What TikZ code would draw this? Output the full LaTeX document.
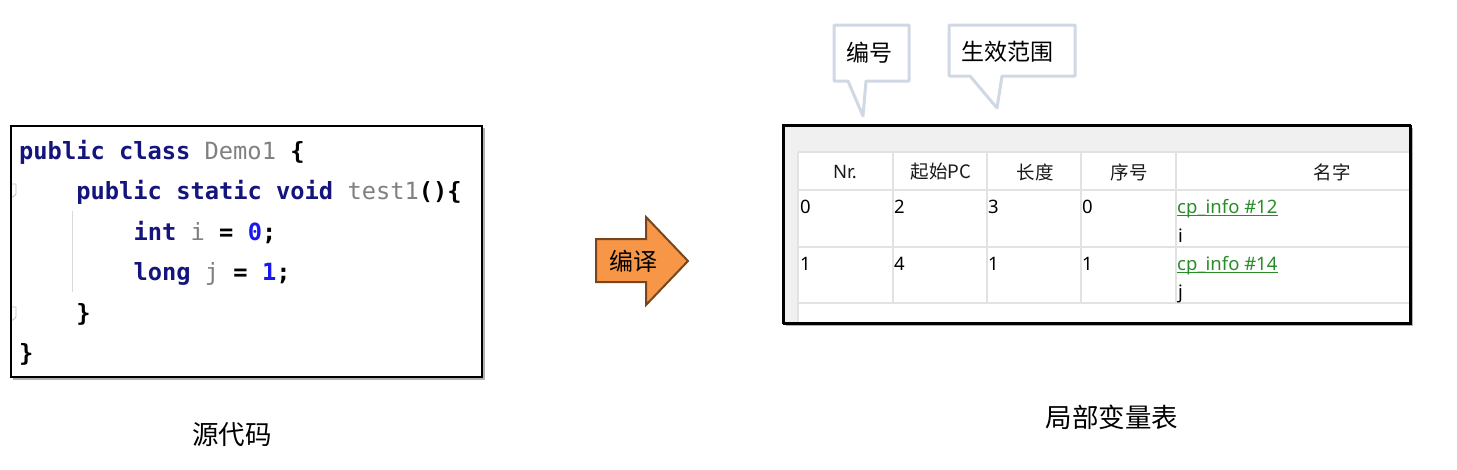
\documentclass[tikz,border=0pt]{standalone}
\usepackage{fontspec}
\setmainfont{Noto Sans}
\newfontfamily\cjk{Noto Sans CJK SC}
\newfontfamily\codefont{DejaVu Sans Mono}
\definecolor{kw}{RGB}{20,20,125}
\definecolor{idg}{RGB}{128,128,128}
\definecolor{num}{RGB}{25,25,235}
\definecolor{calloutline}{RGB}{208,216,228}
\definecolor{arrowfill}{RGB}{247,150,70}
\definecolor{arrowline}{RGB}{120,70,30}
\definecolor{gridc}{RGB}{226,226,226}
\definecolor{panelbg}{RGB}{240,240,240}
\definecolor{linkg}{RGB}{40,140,40}
\newcommand{\idn}[1]{{\mdseries\color{idg}#1}}
\begin{document}
\begin{tikzpicture}[x=1pt,y=-1pt,
  codeline/.style={anchor=base west,inner sep=0pt,font=\codefont\bfseries\fontsize{23.7}{28}\selectfont},
  hdr/.style={inner sep=0pt,font=\cjk\fontsize{18.5}{22}\selectfont,text=black!90},
  cell/.style={anchor=base west,inner sep=0pt,font=\fontsize{18.5}{22}\selectfont,text=black},
  link/.style={cell,text=linkg},
  callout/.style={draw=calloutline,line width=3pt,fill=white,line join=round},
  callouttext/.style={inner sep=0pt,font=\cjk\fontsize{23}{26}\selectfont},
  caption/.style={inner sep=0pt,font=\cjk\fontsize{26.5}{30}\selectfont},
  frame/.style={draw=black,line width=2pt},
  shadow/.style={fill=black!30,draw=none},
  grid/.style={draw=gridc,line width=1.3pt}
]
\useasboundingbox (0,0) rectangle (1457,469);

% ---------- code box ----------
\fill[shadow] (13,128) rectangle (485,380);
\node[frame,fill=white,anchor=north west,minimum width=471pt,minimum height=251pt,inner sep=0pt] (codebox) at (10,125) {};
\draw[black!25,line width=0.8pt] (12,184)--(16,184)--(16,194)--(13,197)--(12,197);
\draw[black!25,line width=0.8pt] (12,307)--(16,307)--(16,317)--(13,320)--(12,320);
\draw[black!15,line width=1pt] (72,211)--(72,292);
\node[codeline] (l1) at (19,159) {\color{kw}public class \idn{Demo1} \color{black}\{};
\node[codeline] (l2) at (76.2,199.5) {\color{kw}public static void \idn{test1}\color{black}()\{};
\node[codeline] (l3) at (133.4,240) {\color{kw}int \idn{i} \color{black}= \color{num}0\color{black};};
\node[codeline] (l4) at (133.4,280.5) {\color{kw}long \idn{j} \color{black}= \color{num}1\color{black};};
\node[codeline] (l5) at (76.2,321) {\}};
\node[codeline] (l6) at (19,361.5) {\}};
\node[caption] (cap1) at (232,435) {源代码};

% ---------- compile arrow ----------
\draw[fill=arrowfill,draw=arrowline,line width=2pt,line join=miter]
  (596,239)--(646,239)--(646,217)--(688,261)--(646,305)--(646,282)--(596,282)--cycle;
\node[callouttext,font=\cjk\fontsize{24}{27}\selectfont] (compile) at (633,261) {编译};

% ---------- callouts ----------
\draw[callout] (834,25)--(909,25)--(909,81)--(866,81)--(863,116)--(848,81)--(834,81)--cycle;
\node[callouttext] (c1) at (869,53) {编号};
\draw[callout] (949,25)--(1075,25)--(1075,76)--(1002,76)--(997,108)--(970,76)--(949,76)--cycle;
\node[callouttext] (c2) at (1007,52) {生效范围};

% ---------- table ----------
\fill[shadow] (786,128) rectangle (1413,326);
\node[frame,fill=panelbg,anchor=north west,minimum width=627pt,minimum height=198pt,inner sep=0pt] (tbl) at (783,125) {};
\fill[white] (798,152) rectangle (1409,322);
\draw[grid] (798,152)--(1409,152);
\draw[grid] (798,190)--(1409,190);
\draw[grid] (798,247)--(1409,247);
\draw[grid] (798,303)--(1409,303);
\draw[grid] (798,152)--(798,322);
\foreach \xx in {893,987,1081,1176} {\draw[grid] (\xx,152)--(\xx,303);}
\draw[frame] (783,125) rectangle (1410,323);

\node[hdr,font=\fontsize{18.5}{22}\selectfont] (h1) at (845,172) {Nr.};
\node[hdr] (h2) at (941,172) {起始PC};
\node[hdr] (h3) at (1035,172) {长度};
\node[hdr] (h4) at (1129,172) {序号};
\node[hdr] (h5) at (1332,172) {名字};

\node[cell] (a1) at (800,213) {0};
\node[cell] (a2) at (894,213) {2};
\node[cell] (a3) at (988,213) {3};
\node[cell] (a4) at (1082,213) {0};
\node[link] (a5) at (1177,213) {cp\_info \#12};
\draw[linkg,line width=1pt] ([yshift=-2.5pt]a5.base west)--([yshift=-2.5pt]a5.base east);
\node[cell] (a6) at (1178,242) {i};

\node[cell] (b1) at (800,270) {1};
\node[cell] (b2) at (894,270) {4};
\node[cell] (b3) at (988,270) {1};
\node[cell] (b4) at (1082,270) {1};
\node[link] (b5) at (1177,270) {cp\_info \#14};
\draw[linkg,line width=1pt] ([yshift=-2.5pt]b5.base west)--([yshift=-2.5pt]b5.base east);
\node[cell] (b6) at (1178,298) {j};

\node[caption] (cap2) at (1112,417) {局部变量表};
\end{tikzpicture}
\end{document}
